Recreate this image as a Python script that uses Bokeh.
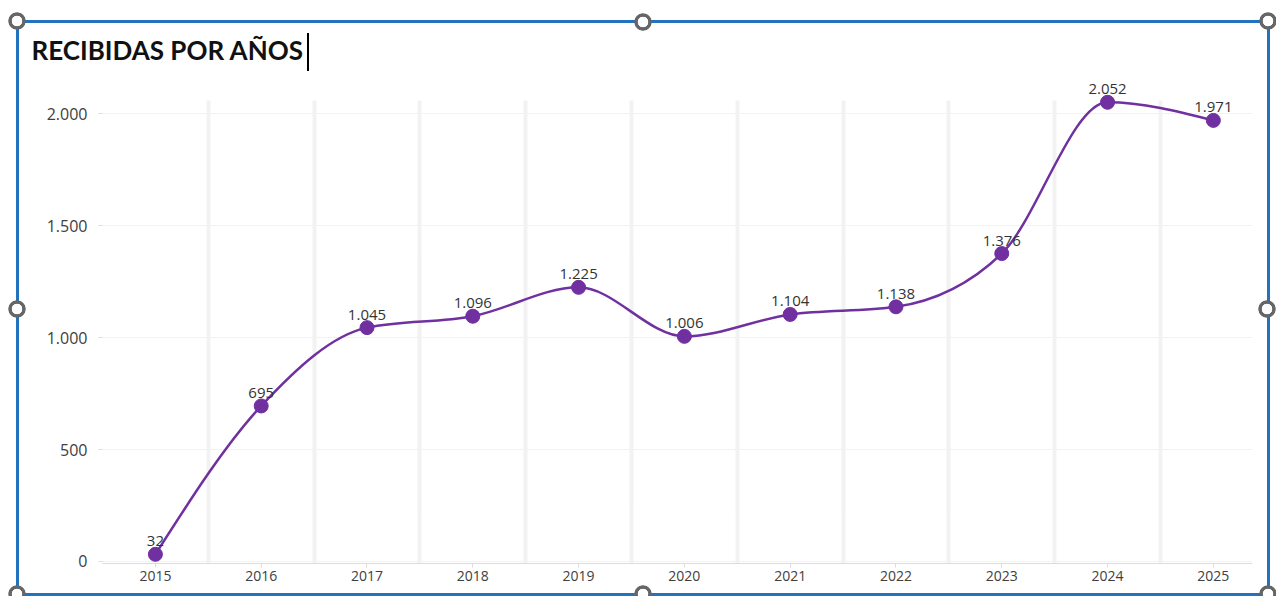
from bokeh.plotting import figure
from bokeh.models import Range1d, FixedTicker, ColumnDataSource, InlineStyleSheet
from bokeh.core.properties import value
from bokeh.embed import file_html
from bokeh.resources import INLINE

# ---- data ----
years = [2015, 2016, 2017, 2018, 2019, 2020, 2021, 2022, 2023, 2024, 2025]
recibidas = [32, 695, 1045, 1096, 1225, 1006, 1104, 1138, 1376, 2052, 1971]
y_ticks = [0, 500, 1000, 1500, 2000]
title_text = "RECIBIDAS POR AÑOS"

PURPLE = "#7030A0"
FONT = "Open Sans"
BLUE = "#2372BD"

def fmt(v):
    return f"{v:,}".replace(",", ".")

W, H = 1276, 596

# ---- selection frame & handles drawn as a CSS overlay ----
def line(x, y, w, h, c=BLUE):
    return f"linear-gradient({c},{c}) {x}px {y}px / {w}px {h}px no-repeat"

def handle(cx, cy):
    return (f"radial-gradient(circle closest-side, #ffffff 0 56%, #666666 62% 92%, transparent 100%) "
            f"{cx - 9}px {cy - 9}px / 18px 18px no-repeat")

fl, fr, ft, fb = 17, 1268, 21, 594
mx, my = 643, 309
layers = [handle(hx, hy) for hx, hy in [(fl, ft), (mx, ft + 1), (fr, ft), (fl, my), (fr - 1, my),
                                         (fl, fb), (mx, fb), (fr, fb)]]
layers += [line(307, 33, 2, 38, "#000000")]  # text cursor after title
layers += [line(fl - 1, ft - 1, fr - fl + 3, 3), line(fl - 1, fb - 1, fr - fl + 3, 3),
           line(fl - 1, ft - 1, 3, fb - ft + 3), line(fr - 1, ft - 1, 3, fb - ft + 3)]
css = (":host { position: relative; }\n"
       ":host::after { content: ''; position: absolute; left: 0; top: 0; width: 100%; height: 100%;"
       " pointer-events: none; z-index: 10; background: " + ", ".join(layers) + "; }")

FRAME_TOP = 75
y_lo, y_hi_grid = -9, 2060
px_per_unit = (563 - 100) / (y_hi_grid - y_lo)
y_hi = y_hi_grid + (100 - FRAME_TOP) / px_per_unit

p = figure(width=W, height=H, output_backend="svg", toolbar_location=None,
           x_range=Range1d(2014.5, 2025.37), y_range=Range1d(y_lo, y_hi),
           min_border_left=102, min_border_right=W - 1252, min_border_top=FRAME_TOP,
           min_border_bottom=H - 563, stylesheets=[InlineStyleSheet(css=css)])
p.outline_line_color = None
p.background_fill_color = "white"
p.border_fill_color = "white"

p.title.text = title_text
p.title.text_font = "Lato"
p.title.text_font_style = "bold"
p.title.text_font_size = "26px"
p.title.text_color = "#111111"
p.title.align = "left"
p.title.offset = -71
p.title.standoff = 19

# axes
p.xaxis.ticker = FixedTicker(ticks=years)
p.xaxis.major_label_overrides = {y: str(y) for y in years}
p.xaxis.major_label_text_font = FONT
p.xaxis.major_label_text_font_size = "14px"
p.xaxis.major_label_text_color = "#404040"
p.xaxis.axis_line_color = "#dcdcdc"
p.xaxis.major_tick_line_color = "#dcdcdc"
p.xaxis.major_tick_out = 4
p.xaxis.major_tick_in = 0
p.xaxis.minor_tick_line_color = None
p.xaxis.major_label_standoff = 3

p.yaxis.ticker = FixedTicker(ticks=y_ticks)
p.yaxis.major_label_overrides = {v: fmt(v) for v in y_ticks}
p.yaxis.major_label_text_font = FONT
p.yaxis.major_label_text_font_size = "16px"
p.yaxis.major_label_text_color = "#404040"
p.yaxis.axis_line_color = None
p.yaxis.major_tick_line_color = "#dcdcdc"
p.yaxis.major_tick_out = 4
p.yaxis.major_tick_in = 0
p.yaxis.minor_tick_line_color = None
p.yaxis.major_label_standoff = 11

# grids
p.xgrid.ticker = FixedTicker(ticks=[y - 0.5 for y in years] + [years[-1] + 0.5])
p.xgrid.grid_line_color = "#f2f2f2"
p.xgrid.grid_line_width = 4
p.xgrid.cross_bounds = (y_lo, y_hi_grid)
p.ygrid.ticker = FixedTicker(ticks=y_ticks)
p.ygrid.grid_line_color = "#f2f2f2"
p.ygrid.grid_line_width = 1

# smoothed line: monotone cubic (Steffen) through the data points, drawn as Bezier segments
n = len(years)
xs, ys = years, recibidas
h = [xs[i + 1] - xs[i] for i in range(n - 1)]
s = [(ys[i + 1] - ys[i]) / h[i] for i in range(n - 1)]

def sign(v):
    return (v > 0) - (v < 0)

t = [0.0] * n
for i in range(1, n - 1):
    pm = (s[i - 1] * h[i] + s[i] * h[i - 1]) / (h[i - 1] + h[i])
    t[i] = (sign(s[i - 1]) + sign(s[i])) * min(abs(s[i - 1]), abs(s[i]), 0.5 * abs(pm))
t[0] = (3 * s[0] - t[1]) / 2
t[-1] = (3 * s[-1] - t[-2]) / 2

x0, y0, x1, y1, cx0, cy0, cx1, cy1 = ([] for _ in range(8))
for i in range(n - 1):
    dx = h[i] / 3
    x0.append(xs[i]); y0.append(ys[i]); x1.append(xs[i + 1]); y1.append(ys[i + 1])
    cx0.append(xs[i] + dx); cy0.append(ys[i] + dx * t[i])
    cx1.append(xs[i + 1] - dx); cy1.append(ys[i + 1] - dx * t[i + 1])
p.bezier(x0=x0, y0=y0, x1=x1, y1=y1, cx0=cx0, cy0=cy0, cx1=cx1, cy1=cy1,
         line_color=PURPLE, line_width=2.5)

src = ColumnDataSource(dict(x=years, y=recibidas, lab=[fmt(v) for v in recibidas]))
p.scatter("x", "y", source=src, size=14, fill_color=PURPLE, line_color=PURPLE)
p.text("x", "y", text="lab", source=src, text_align="center", text_baseline="bottom",
       y_offset=-8, text_font=value(FONT), text_font_size="15px", text_color="#333333")

open("out.html", "w").write(file_html(p, INLINE))
